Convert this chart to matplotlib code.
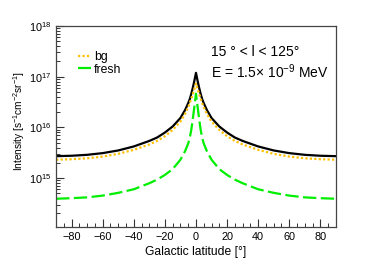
import matplotlib
matplotlib.use("Agg")
import matplotlib.pyplot as plt
from matplotlib.ticker import LogLocator, MultipleLocator, NullFormatter

plt.rcParams['font.family'] = ['Liberation Sans', 'DejaVu Sans']
plt.rcParams['mathtext.fontset'] = 'custom'
plt.rcParams['mathtext.rm'] = 'Liberation Sans'
plt.rcParams['mathtext.it'] = 'Liberation Sans:italic'
plt.rcParams['mathtext.bf'] = 'Liberation Sans:bold'

# galactic latitude [deg]
latitude = [-90, -80, -70, -60, -50, -40, -30, -25, -20, -15, -10, -7, -5, -4, -3, -2, -1, 0,
            1, 2, 3, 4, 5, 7, 10, 15, 20, 25, 30, 40, 50, 60, 70, 80, 90]

# intensity [s^-1 cm^-2 sr^-1]
bg = [2.3e15, 2.35e15, 2.45e15, 2.65e15, 3.0e15, 3.6e15, 4.6e15, 5.4e15, 6.7e15, 8.9e15,
      1.3e16, 1.85e16, 2.5e16, 3.0e16, 3.7e16, 4.6e16, 5.8e16, 7.3e16,
      5.8e16, 4.6e16, 3.7e16, 3.0e16, 2.5e16, 1.85e16, 1.3e16,
      8.9e15, 6.7e15, 5.4e15, 4.6e15, 3.6e15, 3.0e15, 2.65e15, 2.45e15, 2.35e15, 2.3e15]
fresh = [3.9e14, 4.0e14, 4.15e14, 4.5e14, 5.1e14, 6.0e14, 7.9e14, 9.3e14, 1.15e15, 1.5e15,
         2.3e15, 3.4e15, 4.8e15, 6.2e15, 9.0e15, 1.5e16, 2.6e16, 4.6e16,
         2.6e16, 1.5e16, 9.0e15, 6.2e15, 4.8e15, 3.4e15, 2.3e15,
         1.5e15, 1.15e15, 9.3e14, 7.9e14, 6.0e14, 5.1e14, 4.5e14, 4.15e14, 4.0e14, 3.9e14]
total = [2.7e15, 2.75e15, 2.87e15, 3.1e15, 3.5e15, 4.2e15, 5.4e15, 6.3e15, 7.9e15, 1.04e16,
         1.53e16, 2.2e16, 3.0e16, 3.6e16, 4.6e16, 6.1e16, 8.4e16, 1.19e17,
         8.4e16, 6.1e16, 4.6e16, 3.6e16, 3.0e16, 2.2e16, 1.53e16,
         1.04e16, 7.9e15, 6.3e15, 5.4e15, 4.2e15, 3.5e15, 3.1e15, 2.87e15, 2.75e15, 2.7e15]

fig = plt.figure(figsize=(3.74, 2.68), dpi=100)
ax = fig.add_axes([0.150, 0.153, 0.748, 0.750])

ax.plot(latitude, total, color='black', lw=1.6)
ax.plot(latitude, bg, color='#FFC000', lw=1.6, ls=(0, (1, 1)), label='bg')
ax.plot(latitude, fresh, color='#00EE00', lw=1.6, ls=(0, (6, 2)), label='fresh')

ax.set_yscale('log')
ax.set_xlim(-90, 90)
ax.set_ylim(1.08e14, 1e18)

ax.xaxis.set_major_locator(MultipleLocator(20))
ax.xaxis.set_minor_locator(MultipleLocator(5))
ax.yaxis.set_major_locator(LogLocator(base=10, numticks=10))
ax.yaxis.set_minor_locator(LogLocator(base=10, subs=range(2, 10), numticks=50))
ax.yaxis.set_minor_formatter(NullFormatter())

ax.tick_params(which='both', direction='in', top=False, right=False, labelsize=7.8,
               color='#333333')
ax.tick_params(which='major', length=6, width=0.8)
ax.tick_params(which='minor', length=3, width=0.7)
for s in ax.spines.values():
    s.set_color('#444444')
    s.set_linewidth(0.9)

ax.set_xlabel('Galactic latitude [°]', fontsize=8.7, labelpad=3)
ax.set_ylabel('Intensity [s$^{-1}$cm$^{-2}$sr$^{-1}$]', fontsize=7.3)
ax.yaxis.set_label_coords(-0.105, 0.527)

ax.legend(loc='upper left', bbox_to_anchor=(0.0775, 0.876), frameon=False, fontsize=8.8,
          handlelength=1.09, handletextpad=0.22, labelspacing=0.05, borderpad=0,
          borderaxespad=0)

ax.text(0.5525, 0.851, '15 ° < l < 125°', transform=ax.transAxes, fontsize=10,
        va='baseline')
ax.text(0.5525, 0.740, 'E = 1.5$\\times$ 10$^{-9}$ MeV', transform=ax.transAxes,
        fontsize=10, va='baseline')

fig.savefig('out.png', dpi=100)
